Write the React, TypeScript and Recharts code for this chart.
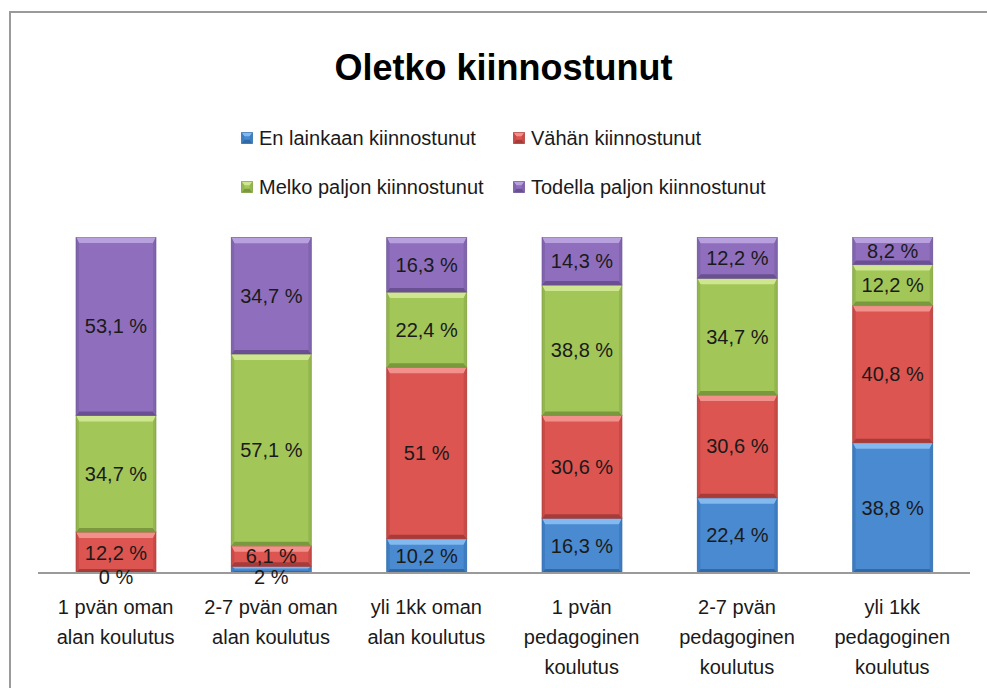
import { BarChart, Bar, XAxis, YAxis, Legend, LabelList } from 'recharts'

const CATEGORIES = [
  '1 pvän oman|alan koulutus',
  '2-7 pvän oman|alan koulutus',
  'yli 1kk oman|alan koulutus',
  '1 pvän|pedagoginen|koulutus',
  '2-7 pvän|pedagoginen|koulutus',
  'yli 1kk|pedagoginen|koulutus',
]

const EN_LAINKAAN = [0, 2, 10.2, 16.3, 22.4, 38.8]
const VAHAN = [12.2, 6.1, 51, 30.6, 30.6, 40.8]
const MELKO_PALJON = [34.7, 57.1, 22.4, 38.8, 34.7, 12.2]
const TODELLA_PALJON = [53.1, 34.7, 16.3, 14.3, 12.2, 8.2]

const SERIES = [
  { key: 'en', name: 'En lainkaan kiinnostunut', values: EN_LAINKAAN, color: '#4a8ad0', light: '#82b9ef', dark: '#2f69a6', side: '#3f7dc2' },
  { key: 'vahan', name: 'Vähän kiinnostunut', values: VAHAN, color: '#dc5550', light: '#f2918c', dark: '#a63b38', side: '#c94a46' },
  { key: 'melko', name: 'Melko paljon kiinnostunut', values: MELKO_PALJON, color: '#a3c659', light: '#cfe690', dark: '#7a983d', side: '#94b64e' },
  { key: 'todella', name: 'Todella paljon kiinnostunut', values: TODELLA_PALJON, color: '#8f6fbd', light: '#b8a0de', dark: '#6a5092', side: '#8164ae' },
]

const data = CATEGORIES.map((c, i) => {
  const row: any = { name: c }
  SERIES.forEach((s) => (row[s.key] = s.values[i]))
  return row
})

const FONT = '"Liberation Sans", Arial, sans-serif'

const fmt = (v: number) => `${String(v).replace('.', ',')} %`

// bevelled bar like the old Excel 2007 style
const makeShape = (s: any) => (props: any) => {
  const { x, y, width: w, height: h } = props
  if (!(h > 0.5)) return <g />
  const tb = Math.min(6, h / 3)
  const bb = Math.min(4, h / 3)
  const sb = Math.min(3, w / 4)
  return (
    <g>
      <rect x={x} y={y} width={w} height={h} fill={s.color} />
      <polygon points={`${x},${y} ${x + w},${y} ${x + w - sb},${y + tb} ${x + sb},${y + tb}`} fill={s.light} />
      <polygon points={`${x},${y + h} ${x + w},${y + h} ${x + w - sb},${y + h - bb} ${x + sb},${y + h - bb}`} fill={s.dark} />
      <polygon points={`${x},${y} ${x + sb},${y + tb} ${x + sb},${y + h - bb} ${x},${y + h}`} fill={s.side} />
      <polygon points={`${x + w},${y} ${x + w - sb},${y + tb} ${x + w - sb},${y + h - bb} ${x + w},${y + h}`} fill={s.side} />
      <rect x={x} y={y} width={w} height={h} fill="none" stroke={s.dark} strokeOpacity={0.6} strokeWidth={1} />
    </g>
  )
}

const makeLabel = (s: any) => (props: any) => {
  const { x, y, width, height, index } = props
  const v = s.values[index]
  const cy = height < 10 ? y + height + 4 : y + height / 2
  return (
    <text
      x={x + width / 2}
      y={cy}
      textAnchor="middle"
      dominantBaseline="central"
      fontFamily={FONT}
      fontSize={20}
      fill="#1a1a1a"
    >
      {fmt(v)}
    </text>
  )
}

const CategoryTick = ({ x, y, payload }: any) => {
  const lines = String(payload.value).split('|')
  return (
    <text x={x} y={y + 33} textAnchor="middle" fontFamily={FONT} fontSize={20} fill="#1a1a1a">
      {lines.map((l, i) => (
        <tspan key={i} x={x} dy={i === 0 ? 0 : 30}>
          {l}
        </tspan>
      ))}
    </text>
  )
}

const LEGEND_POS = [
  { left: 241, top: 128 },
  { left: 513, top: 128 },
  { left: 241, top: 177 },
  { left: 513, top: 177 },
]

const LegendContent = () => (
  <div style={{ position: 'relative', width: 987, height: 220 }}>
    {SERIES.map((s, i) => (
      <div
        key={s.key}
        style={{
          position: 'absolute',
          left: LEGEND_POS[i].left,
          top: LEGEND_POS[i].top,
          display: 'flex',
          alignItems: 'center',
          fontFamily: FONT,
          fontSize: 20,
          color: '#1a1a1a',
          whiteSpace: 'nowrap',
          lineHeight: '20px',
        }}
      >
        <svg width={12} height={12} style={{ marginRight: 6 }}>
          {makeShape({ ...s })({ x: 0.5, y: 0.5, width: 11, height: 11 })}
        </svg>
        {s.name}
      </div>
    ))}
  </div>
)

export default function App() {
  return (
    <div style={{ position: 'fixed', left: 0, top: 0, width: 987, height: 688, background: '#fff', overflow: 'hidden' }}>
      <div
        style={{
          position: 'absolute',
          left: 9,
          top: 11,
          width: 1000,
          height: 700,
          border: '2px solid #9a9a9a',
        }}
      />
      <div
        style={{
          position: 'absolute',
          left: 0,
          top: 50,
          width: 1007,
          textAlign: 'center',
          fontFamily: FONT,
          fontWeight: 'bold',
          fontSize: 36,
          lineHeight: '36px',
          color: '#000',
        }}
      >
        Oletko kiinnostunut
      </div>
      <BarChart
        width={987}
        height={688}
        data={data}
        margin={{ top: 237, right: 17, bottom: 15, left: 38 }}
        barSize={80}
      >
        <XAxis
          dataKey="name"
          height={100}
          interval={0}
          tickLine={false}
          axisLine={{ stroke: '#9a9a9a', strokeWidth: 2 }}
          tick={<CategoryTick />}
        />
        <YAxis hide domain={[0, 100]} allowDataOverflow />
        <Legend
          layout="horizontal"
          verticalAlign="middle"
          align="center"
          wrapperStyle={{ position: 'absolute', left: 0, top: 0, width: 987, height: 220 }}
          content={<LegendContent />}
        />
        {SERIES.map((s) => (
          <Bar
            key={s.key}
            dataKey={s.key}
            name={s.name}
            stackId="a"
            fill={s.color}
            shape={makeShape(s)}
            isAnimationActive={false}
          >
            <LabelList dataKey={s.key} content={makeLabel(s)} />
          </Bar>
        ))}
      </BarChart>
    </div>
  )
}
